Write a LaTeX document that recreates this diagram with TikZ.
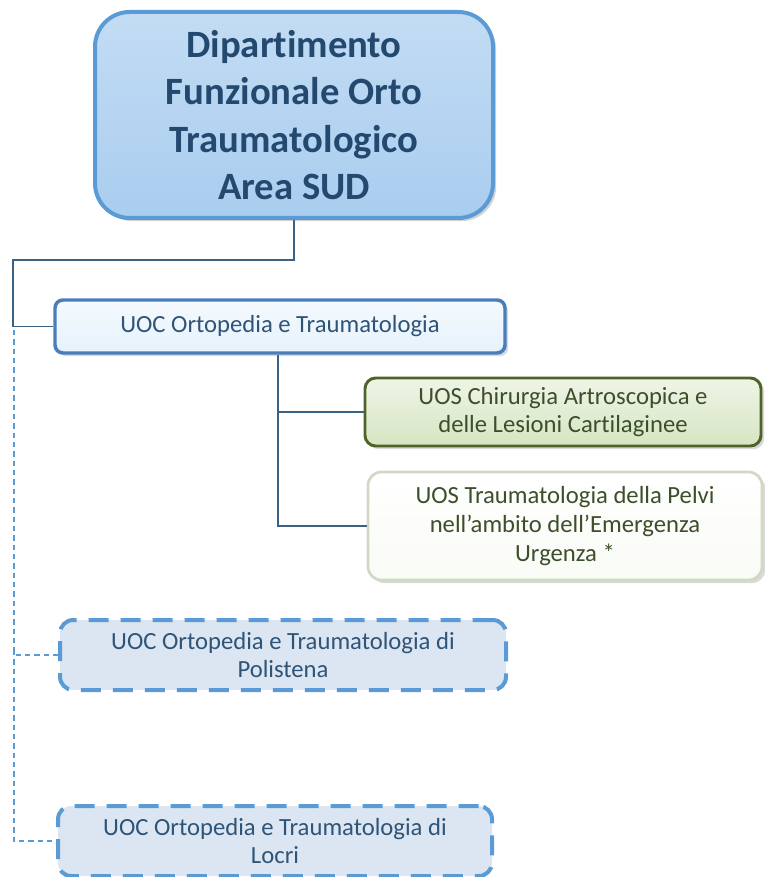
\documentclass[tikz,border=0pt]{standalone}
\usepackage{fontspec}
\setmainfont{Carlito}[Ligatures=CommonOff]
\usepackage{tikz}
\usetikzlibrary{shadows}

\definecolor{topfill}{HTML}{A9CDEF}
\definecolor{topline}{HTML}{5B9BD5}
\definecolor{toptext}{HTML}{23496F}
\definecolor{uocfill}{HTML}{E6F2FC}
\definecolor{uocline}{HTML}{4A7EBB}
\definecolor{uoctext}{HTML}{2E5478}
\definecolor{link}{HTML}{3B6184}
\definecolor{grfill}{HTML}{D6E5C2}
\definecolor{grline}{HTML}{4F6228}
\definecolor{grtext}{HTML}{3D4F2A}
\definecolor{wline}{HTML}{CFD9C4}
\definecolor{dfill}{HTML}{DCE6F2}

\begin{document}
\begin{tikzpicture}[x=0.75pt,y=-0.75pt,
  dip/.style={draw=topline,line width=3pt,rounded corners=26pt,
    top color=topfill!70!white,bottom color=topfill,
    drop shadow={opacity=0.35},
    text=toptext,font=\fontsize{29}{35.5}\selectfont\bfseries,align=center},
  uoc/.style={draw=uocline,line width=2.6pt,rounded corners=6pt,
    top color=uocfill!40!white,bottom color=uocfill,drop shadow={opacity=0.3},
    text=uoctext,font=\fontsize{18.5}{21.5}\selectfont,align=center},
  uosgr/.style={draw=grline,line width=2.2pt,rounded corners=8pt,
    top color=grfill!40!white,bottom color=grfill,drop shadow={opacity=0.3},
    text=grtext,font=\fontsize{18.5}{21.5}\selectfont,align=center},
  uosw/.style={draw=wline,line width=2pt,rounded corners=10pt,
    top color=white,bottom color=grfill!15!white,drop shadow={opacity=0.3},
    text=grtext,font=\fontsize{18.5}{22}\selectfont,align=center},
  dbox/.style={draw=topline,line width=3pt,rounded corners=10pt,
    dash pattern=on 15pt off 9pt,fill=dfill,
    text=uoctext,font=\fontsize{18.5}{21}\selectfont,align=center},
  link/.style={draw=link,line width=1.4pt},
  dlink/.style={draw=topline,line width=1pt,dash pattern=on 4pt off 3pt}]
\useasboundingbox (0,0) rectangle (764,877);

\node[dip,minimum width=398*0.75pt,minimum height=206*0.75pt] (d) at (294,115)
  {Dipartimento\\Funzionale Orto\\Traumatologico\\Area SUD};
\node[uoc,minimum width=450*0.75pt,minimum height=53*0.75pt] (u) at (280,326.5)
  {UOC Ortopedia e Traumatologia};
\node[uosgr,minimum width=396*0.75pt,minimum height=68*0.75pt] (a) at (563,412)
  {UOS Chirurgia Artroscopica e\\delle Lesioni Cartilaginee};
\node[uosw,minimum width=394*0.75pt,minimum height=108*0.75pt] (p) at (565,526)
  {UOS Traumatologia della Pelvi\\nell’ambito dell’Emergenza\\Urgenza *};
\node[dbox,minimum width=446*0.75pt,minimum height=70*0.75pt] (s) at (283,655)
  {UOC Ortopedia e Traumatologia di\\Polistena};
\node[dbox,minimum width=434*0.75pt,minimum height=70*0.75pt] (l) at (275,841)
  {UOC Ortopedia e Traumatologia di\\Locri};

\coordinate (k) at (13,260);
\coordinate (m) at (278,412);
\draw[link] (d.south) |- (k) |- (u.west);
\draw[link] (u.south -| m) -- (m) -- (a.west);
\draw[link] (m) |- (p.west);
\draw[dlink] (14,330) |- (s.west);
\draw[dlink] (14,650) |- (l.west);
\end{tikzpicture}
\end{document}
